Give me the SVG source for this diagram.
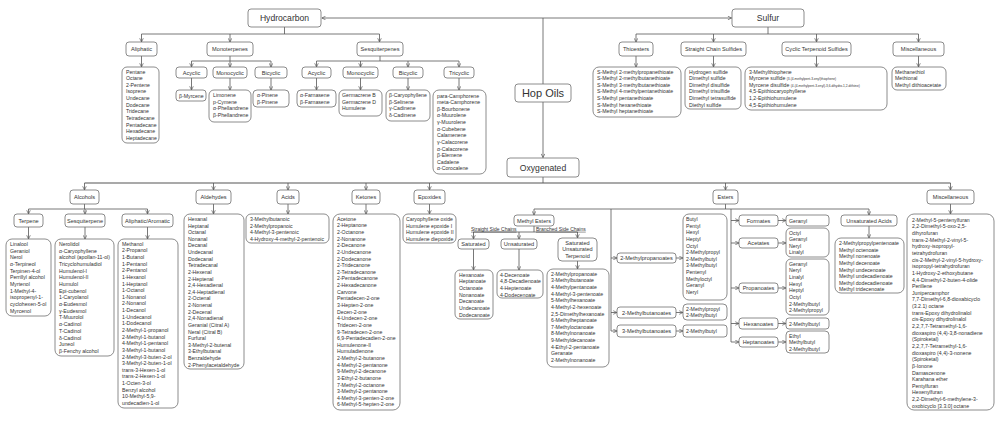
<svg xmlns="http://www.w3.org/2000/svg" width="1000" height="441" viewBox="0 0 1000 441">
<defs>
<marker id="a" viewBox="0 0 6 6" refX="5.6" refY="3" markerWidth="4.5" markerHeight="4.5" markerUnits="userSpaceOnUse" orient="auto"><path d="M0.6,0.6 L5.6,3 L0.6,5.4" fill="none" stroke="#555" stroke-width="0.9"/></marker>
<style>
rect{fill:#fff;stroke:#6e6e6e;stroke-width:0.8}
text{font-family:"Liberation Sans",Arial,sans-serif;fill:#333}
.h{font-size:5.6px;text-anchor:middle}
.l{font-size:5.2px}
.s{font-size:3.2px}
.big{font-size:8.6px;text-anchor:middle}
.c path{fill:none;stroke:#555;stroke-width:0.8}
.c .m{marker-end:url(#a)}
.u{font-size:5px;text-decoration:underline}
</style>
</defs>
<rect x="0" y="0" width="1000" height="441" style="fill:#fff;stroke:none"/>

<g class="c" id="connectors">
<path class="m" d="M543,18 H321.8"/>
<path class="m" d="M543,18 H731.6"/>
<path class="m" d="M543,18 V157.6"/>
<path d="M284.5,27 V34 M141.5,34 H379.5"/>
<path class="m" d="M141.5,34 V42"/><path class="m" d="M230,34 V42"/><path class="m" d="M379.5,34 V42"/>
<path d="M230,56 V61 M191.5,61 H271"/>
<path class="m" d="M191.5,61 V67"/><path class="m" d="M230,61 V67"/><path class="m" d="M271,61 V67"/>
<path d="M380,56 V61 M316.5,61 H459"/>
<path class="m" d="M316.5,61 V67"/><path class="m" d="M360.5,61 V67"/><path class="m" d="M408,61 V67"/><path class="m" d="M459,61 V67"/>
<path class="m" d="M141.5,56 V67"/>
<path class="m" d="M191.5,78 V90"/><path class="m" d="M230,78 V90"/><path class="m" d="M271,78 V90"/>
<path class="m" d="M316.5,78 V90"/><path class="m" d="M360.5,78 V90"/><path class="m" d="M408,78 V90"/><path class="m" d="M459,78 V90"/>
<path d="M768,27 V34 M636,34 H918.5"/>
<path class="m" d="M636,34 V42"/><path class="m" d="M713.5,34 V42"/><path class="m" d="M816.5,34 V42"/><path class="m" d="M918.5,34 V42"/>
<path class="m" d="M636,56 V67"/><path class="m" d="M713.5,56 V67"/><path class="m" d="M816.5,56 V67"/><path class="m" d="M918.5,56 V67"/>
<path d="M543,177 V183"/>
<path d="M84.5,183 H950.5" style="stroke-width:1.2"/>
<path class="m" d="M84.5,183 V190"/><path class="m" d="M213.5,183 V190"/><path class="m" d="M288,183 V190"/><path class="m" d="M366,183 V190"/><path class="m" d="M429.5,183 V190"/><path class="m" d="M725.5,183 V190"/><path class="m" d="M950.5,183 V190"/>
<path class="m" d="M213.5,204 V214"/><path class="m" d="M288,204 V214"/><path class="m" d="M366,204 V214"/><path class="m" d="M429.5,204 V214"/><path class="m" d="M950.5,204 V214"/>
<path d="M84.5,204 V209 M28.5,209 H147.5"/>
<path class="m" d="M28.5,209 V214"/><path class="m" d="M85,209 V214"/><path class="m" d="M147.5,209 V214"/>
<path class="m" d="M28.5,227 V239"/><path class="m" d="M85,227 V239"/><path class="m" d="M147.5,227 V239"/>
<path d="M725.5,204 V209 M534,209 H869 M611,209 V331 M731,209 V342"/>
<path class="m" d="M534,209 V215"/><path class="m" d="M869,209 V215"/>
<path class="m" d="M611,258 H617"/><path class="m" d="M611,312.5 H617"/><path class="m" d="M611,331 H617"/>
<path class="m" d="M676,258 H683"/><path class="m" d="M676,312.5 H683"/><path class="m" d="M676,331 H683"/>
<path class="m" d="M731,220.5 H739"/><path class="m" d="M731,243 H739"/><path class="m" d="M731,288 H739"/><path class="m" d="M731,323.5 H739"/><path class="m" d="M731,342 H739"/>
<path class="m" d="M778,220.5 H786"/><path class="m" d="M778,243 H786"/><path class="m" d="M778,288 H786"/><path class="m" d="M778,323.5 H786"/><path class="m" d="M778,342 H786"/>
<path class="m" d="M869,226 V238"/>
<path d="M534,226 V232 M473.5,232 H577.5"/>
<path class="m" d="M473.5,232 V239"/><path class="m" d="M519,232 V239"/><path class="m" d="M577.5,232 V238"/>
<path class="m" d="M473.5,249 V270"/><path class="m" d="M519,249 V270"/><path class="m" d="M577.5,261 V269"/>
</g>

<g id="hop-oils"><rect x="515" y="84" width="56" height="18" rx="3"/><text x="543" y="97" style="font-size:11px;text-anchor:middle">Hop Oils</text></g>
<g id="hydrocarbon"><rect x="248" y="9" width="73" height="18" rx="3"/><text class="big" x="284.5" y="21">Hydrocarbon</text></g>
<g id="sulfur"><rect x="732" y="9" width="72" height="18" rx="3"/><text class="big" x="768" y="21">Sulfur</text></g>
<g id="oxygenated"><rect x="507" y="158" width="72" height="19" rx="3"/><text class="big" x="543" y="170.5">Oxygenated</text></g>

<g id="aliphatic"><rect x="126" y="42" width="31" height="14" rx="3"/><text class="h" x="141.5" y="51">Aliphatic</text></g>
<g id="aliphatic-list"><rect x="122" y="67" width="37" height="76" rx="5"/><text class="l" y="73.5"><tspan x="126">Pentane</tspan><tspan x="126" dy="6.63">Octane</tspan><tspan x="126" dy="6.63">2-Pentene</tspan><tspan x="126" dy="6.63">Isoprene</tspan><tspan x="126" dy="6.63">Undecane</tspan><tspan x="126" dy="6.63">Dodecane</tspan><tspan x="126" dy="6.63">Tridecane</tspan><tspan x="126" dy="6.63">Tetradecane</tspan><tspan x="126" dy="6.63">Pentadecane</tspan><tspan x="126" dy="6.63">Hexadecane</tspan><tspan x="126" dy="6.63">Heptadecane</tspan></text></g>
<g id="monoterpenes"><rect x="207" y="42" width="46" height="14" rx="3"/><text class="h" x="230" y="51">Monoterpenes</text></g>
<g id="mono-acyclic"><rect x="176" y="67" width="31" height="11" rx="3"/><text class="h" x="191.5" y="74.5">Acyclic</text></g>
<g id="mono-monocyclic"><rect x="213" y="67" width="34" height="11" rx="3"/><text class="h" x="230" y="74.5">Monocyclic</text></g>
<g id="mono-bicyclic"><rect x="255" y="67" width="32" height="11" rx="3"/><text class="h" x="271" y="74.5">Bicyclic</text></g>
<g id="mono-acyclic-list"><rect x="176" y="90" width="30" height="11" rx="3"/><text class="l" x="179" y="97.5">β-Myrcene</text></g>
<g id="mono-monocyclic-list"><rect x="209" y="90" width="42" height="32" rx="5"/><text class="l" y="97"><tspan x="213">Limonene</tspan><tspan x="213" dy="6.63">p-Cymene</tspan><tspan x="213" dy="6.63">α-Phellandrene</tspan><tspan x="213" dy="6.63">β-Phellandrene</tspan></text></g>
<g id="mono-bicyclic-list"><rect x="253" y="90" width="36" height="17" rx="4"/><text class="l" y="97"><tspan x="257">α-Pinene</tspan><tspan x="257" dy="6.63">β-Pinene</tspan></text></g>
<g id="sesquiterpenes"><rect x="357" y="42" width="46" height="14" rx="3"/><text class="h" x="380" y="51">Sesquiterpenes</text></g>
<g id="sesq-acyclic"><rect x="302" y="67" width="29" height="11" rx="3"/><text class="h" x="316.5" y="74.5">Acyclic</text></g>
<g id="sesq-monocyclic"><rect x="343" y="67" width="35" height="11" rx="3"/><text class="h" x="360.5" y="74.5">Monocyclic</text></g>
<g id="sesq-bicyclic"><rect x="393" y="67" width="30" height="11" rx="3"/><text class="h" x="408" y="74.5">Bicyclic</text></g>
<g id="sesq-tricyclic"><rect x="444" y="67" width="30" height="11" rx="3"/><text class="h" x="459" y="74.5">Tricyclic</text></g>
<g id="sesq-acyclic-list"><rect x="297" y="90" width="39" height="17" rx="4"/><text class="l" y="97"><tspan x="300">α-Farnasene</tspan><tspan x="300" dy="6.63">β-Farnasene</tspan></text></g>
<g id="sesq-monocyclic-list"><rect x="339" y="90" width="43" height="26" rx="5"/><text class="l" y="97"><tspan x="342">Germacrene B</tspan><tspan x="342" dy="6.63">Germacrene D</tspan><tspan x="342" dy="6.63">Humulene</tspan></text></g>
<g id="sesq-bicyclic-list"><rect x="386" y="90" width="44" height="31" rx="5"/><text class="l" y="97"><tspan x="389">β-Caryophyllene</tspan><tspan x="389" dy="6.63">β-Selinene</tspan><tspan x="389" dy="6.63">γ-Cadinene</tspan><tspan x="389" dy="6.63">δ-Cadinene</tspan></text></g>
<g id="sesq-tricyclic-list"><rect x="433" y="90" width="53" height="84" rx="6"/><text class="l" y="97.5"><tspan x="437">para-Camphorene</tspan><tspan x="437" dy="6.63">meta-Camphorene</tspan><tspan x="437" dy="6.63">β-Bourbonene</tspan><tspan x="437" dy="6.63">α-Muurolene</tspan><tspan x="437" dy="6.63">γ-Muurolene</tspan><tspan x="437" dy="6.63">α-Cubebene</tspan><tspan x="437" dy="6.63">Calamenene</tspan><tspan x="437" dy="6.63">γ-Calacorene</tspan><tspan x="437" dy="6.63">α-Calacorene</tspan><tspan x="437" dy="6.63">β-Elemene</tspan><tspan x="437" dy="6.63">Cadalene</tspan><tspan x="437" dy="6.63">α-Corocalene</tspan></text></g>

<g id="thioesters"><rect x="619" y="42" width="34" height="14" rx="3"/><text class="h" x="636" y="51">Thioesters</text></g>
<g id="straight-chain-sulfides"><rect x="681" y="42" width="65" height="14" rx="3"/><text class="h" x="713.5" y="51">Straight Chain Sulfides</text></g>
<g id="cyclic-terpenoid-sulfides"><rect x="782" y="42" width="69" height="14" rx="3"/><text class="h" x="816.5" y="51">Cyclic Terpenoid Sulfides</text></g>
<g id="sulfur-misc"><rect x="893" y="42" width="51" height="14" rx="3"/><text class="h" x="918.5" y="51">Miscellaneous</text></g>
<g id="thioesters-list"><rect x="593" y="67" width="88" height="50" rx="6"/><text class="l" y="73.5"><tspan x="597">S-Methyl 2-methylpropanethioate</tspan><tspan x="597" dy="6.63">S-Methyl 2-methylbutanethioate</tspan><tspan x="597" dy="6.63">S-Methyl 3-methylbutanethioate</tspan><tspan x="597" dy="6.63">S-Methyl 4-methylpentanethioate</tspan><tspan x="597" dy="6.63">S-Methyl pentanethioate</tspan><tspan x="597" dy="6.63">S-Methyl hexanethioate</tspan><tspan x="597" dy="6.63">S-Methyl heptanethioate</tspan></text></g>
<g id="straight-chain-list"><rect x="685" y="67" width="56" height="42" rx="5"/><text class="l" y="73.5"><tspan x="689">Hydrogen sulfide</tspan><tspan x="689" dy="6.63">Dimethyl sulfide</tspan><tspan x="689" dy="6.63">Dimethyl disulfide</tspan><tspan x="689" dy="6.63">Dimethyl trisulfide</tspan><tspan x="689" dy="6.63">Dimethyl tetrasulfide</tspan><tspan x="689" dy="6.63">Diethyl sulfide</tspan></text></g>
<g id="cyclic-terpenoid-list"><rect x="745" y="67" width="142" height="43" rx="6"/><text class="l" y="73.5"><tspan x="749">3-Methylthiophene</tspan><tspan x="749" dy="6.63">Myrcene sulfide </tspan><tspan class="s">(3-(4-methylpent-3-enyl)thiophene)</tspan><tspan x="749" dy="6.63">Myrcene disulfide </tspan><tspan class="s">(4-(4-methylpent-3-enyl)-3,6-dihydro-1,2-dithiine)</tspan><tspan x="749" dy="6.63">4,5-Epithiocaryophyllene</tspan><tspan x="749" dy="6.63">1,2-Epithiohumulene</tspan><tspan x="749" dy="6.63">4,5-Epithiohumulene</tspan></text></g>
<g id="sulfur-misc-list"><rect x="892" y="67" width="54" height="23" rx="5"/><text class="l" y="73.5"><tspan x="895">Methanethiol</tspan><tspan x="895" dy="6.63">Methional</tspan><tspan x="895" dy="6.63">Methyl dithioacetate</tspan></text></g>

<g id="alcohols"><rect x="70" y="190" width="29" height="14" rx="3"/><text class="h" x="84.5" y="199">Alcohols</text></g>
<g id="terpene"><rect x="14" y="214" width="29" height="13" rx="3"/><text class="h" x="28.5" y="222.5">Terpene</text></g>
<g id="sesquiterpene"><rect x="65" y="214" width="40" height="13" rx="3"/><text class="h" x="85" y="222.5">Sesquiterpene</text></g>
<g id="aliphatic-aromatic"><rect x="122" y="214" width="51" height="13" rx="3"/><text class="h" x="147.5" y="222.5">Aliphatic/Aromatic</text></g>
<g id="terpene-list"><rect x="6" y="239" width="45" height="77" rx="6"/><text class="l" y="246"><tspan x="10">Linalool</tspan><tspan x="10" dy="6.67">Geraniol</tspan><tspan x="10" dy="6.67">Nerol</tspan><tspan x="10" dy="6.67">α-Terpineol</tspan><tspan x="10" dy="6.67">Terpinen-4-ol</tspan><tspan x="10" dy="6.67">Perrillyl alcohol</tspan><tspan x="10" dy="6.67">Myrtenol</tspan><tspan x="10" dy="6.67">1-Methyl-4-</tspan><tspan x="10" dy="6.67">isopropenyl-1-</tspan><tspan x="10" dy="6.67">cyclohexen-5-ol</tspan><tspan x="10" dy="6.67">Myrcenol</tspan></text></g>
<g id="sesquiterpene-list"><rect x="55" y="239" width="59" height="117" rx="6"/><text class="l" y="246"><tspan x="59">Nerolidol</tspan><tspan x="59" dy="6.68">α-Caryophyllene</tspan><tspan x="59" dy="6.68">alcohol (apollan-11-ol)</tspan><tspan x="59" dy="6.68">Tricyclohumuladiol</tspan><tspan x="59" dy="6.68">Humulenol-I</tspan><tspan x="59" dy="6.68">Humulenol-II</tspan><tspan x="59" dy="6.68">Humulol</tspan><tspan x="59" dy="6.68">Epi-cubenol</tspan><tspan x="59" dy="6.68">1-Caryolanol</tspan><tspan x="59" dy="6.68">α-Eudesmol</tspan><tspan x="59" dy="6.68">γ-Eudesmol</tspan><tspan x="59" dy="6.68">T-Muurolol</tspan><tspan x="59" dy="6.68">α-Cadinol</tspan><tspan x="59" dy="6.68">T-Cadinol</tspan><tspan x="59" dy="6.68">δ-Cadinol</tspan><tspan x="59" dy="6.68">Juneol</tspan><tspan x="59" dy="6.68">β-Fenchy alcohol</tspan></text></g>
<g id="aliphatic-aromatic-list"><rect x="118" y="239" width="60" height="169" rx="6"/><text class="l" y="245.8"><tspan x="122">Methanol</tspan><tspan x="122" dy="6.63">2-Propanol</tspan><tspan x="122" dy="6.63">1-Butanol</tspan><tspan x="122" dy="6.63">1-Pentanol</tspan><tspan x="122" dy="6.63">2-Pentanol</tspan><tspan x="122" dy="6.63">1-Hexanol</tspan><tspan x="122" dy="6.63">1-Heptanol</tspan><tspan x="122" dy="6.63">1-Octanol</tspan><tspan x="122" dy="6.63">1-Nonanol</tspan><tspan x="122" dy="6.63">2-Nonanol</tspan><tspan x="122" dy="6.63">1-Decanol</tspan><tspan x="122" dy="6.63">1-Undecanol</tspan><tspan x="122" dy="6.63">1-Dodecanol</tspan><tspan x="122" dy="6.63">2-Methyl-1-propanol</tspan><tspan x="122" dy="6.63">2-Methyl-1-butanol</tspan><tspan x="122" dy="6.63">4-Methyl-1-pentanol</tspan><tspan x="122" dy="6.63">3-Methyl-1-butanol</tspan><tspan x="122" dy="6.63">2-Methyl-3-buten-2-ol</tspan><tspan x="122" dy="6.63">3-Methyl-2-buten-1-ol</tspan><tspan x="122" dy="6.63">trans-3-Hexen-1-ol</tspan><tspan x="122" dy="6.63">trans-2-Hexen-1-ol</tspan><tspan x="122" dy="6.63">1-Octen-3-ol</tspan><tspan x="122" dy="6.63">Benzyl alcohol</tspan><tspan x="122" dy="6.63">10-Methyl-5,9-</tspan><tspan x="122" dy="6.63">undecadien-1-ol</tspan></text></g>

<g id="aldehydes"><rect x="196" y="190" width="35" height="14" rx="3"/><text class="h" x="213.5" y="199">Aldehydes</text></g>
<g id="aldehydes-list"><rect x="184" y="214" width="60" height="155" rx="6"/><text class="l" y="221"><tspan x="188">Hexanal</tspan><tspan x="188" dy="6.62">Heptanal</tspan><tspan x="188" dy="6.62">Octanal</tspan><tspan x="188" dy="6.62">Nonanal</tspan><tspan x="188" dy="6.62">Decanal</tspan><tspan x="188" dy="6.62">Undecanal</tspan><tspan x="188" dy="6.62">Dodecanal</tspan><tspan x="188" dy="6.62">Tetradecanal</tspan><tspan x="188" dy="6.62">2-Hexenal</tspan><tspan x="188" dy="6.62">2-Heptenal</tspan><tspan x="188" dy="6.62">2,4-Hexadienal</tspan><tspan x="188" dy="6.62">2,4-Heptadienal</tspan><tspan x="188" dy="6.62">2-Octenal</tspan><tspan x="188" dy="6.62">2-Nonenal</tspan><tspan x="188" dy="6.62">2-Decenal</tspan><tspan x="188" dy="6.62">2,4-Nonadienal</tspan><tspan x="188" dy="6.62">Geranial (Citral A)</tspan><tspan x="188" dy="6.62">Neral (Citral B)</tspan><tspan x="188" dy="6.62">Furfural</tspan><tspan x="188" dy="6.62">3-Methyl-2-butenal</tspan><tspan x="188" dy="6.62">3-Ethylbutanal</tspan><tspan x="188" dy="6.62">Benzaldehyde</tspan><tspan x="188" dy="6.62">2-Phenylacetaldehyde</tspan></text></g>

<g id="acids"><rect x="277" y="190" width="22" height="14" rx="3"/><text class="h" x="288" y="199">Acids</text></g>
<g id="acids-list"><rect x="246" y="214" width="83" height="29" rx="5"/><text class="l" y="221"><tspan x="250">3-Methylbutanoic</tspan><tspan x="250" dy="6.63">2-Methylpropanoic</tspan><tspan x="250" dy="6.63">4-Methyl-3-pentenoic</tspan><tspan x="250" dy="6.63">4-Hydroxy-4-methyl-2-pentenoic</tspan></text></g>

<g id="ketones"><rect x="352" y="190" width="28" height="14" rx="3"/><text class="h" x="366" y="199">Ketones</text></g>
<g id="ketones-list"><rect x="333" y="214" width="67" height="196" rx="7"/><text class="l" y="220.8"><tspan x="337">Acetone</tspan><tspan x="337" dy="6.63">2-Heptanone</tspan><tspan x="337" dy="6.63">2-Octanone</tspan><tspan x="337" dy="6.63">2-Nonanone</tspan><tspan x="337" dy="6.63">2-Decanone</tspan><tspan x="337" dy="6.63">2-Undecanone</tspan><tspan x="337" dy="6.63">2-Dodecanone</tspan><tspan x="337" dy="6.63">2-Tridecanone</tspan><tspan x="337" dy="6.63">2-Tetradecanone</tspan><tspan x="337" dy="6.63">2-Pentadecanone</tspan><tspan x="337" dy="6.63">2-Hexadecanone</tspan><tspan x="337" dy="6.63">Carvone</tspan><tspan x="337" dy="6.63">Pentadecen-2-one</tspan><tspan x="337" dy="6.63">3-Hepten-2-one</tspan><tspan x="337" dy="6.63">Decen-2-one</tspan><tspan x="337" dy="6.63">4-Undecen-2-one</tspan><tspan x="337" dy="6.63">Tridecen-2-one</tspan><tspan x="337" dy="6.63">9-Tetradecen-2-one</tspan><tspan x="337" dy="6.63">6,9-Pentadecadien-2-one</tspan><tspan x="337" dy="6.63">Humulenone-II</tspan><tspan x="337" dy="6.63">Humuladienone</tspan><tspan x="337" dy="6.63">2-Methyl-2-butanone</tspan><tspan x="337" dy="6.63">4-Methyl-2-pentanone</tspan><tspan x="337" dy="6.63">9-Methyl-2-decanone</tspan><tspan x="337" dy="6.63">3-Ethyl-2-butanone</tspan><tspan x="337" dy="6.63">7-Methyl-2-octanone</tspan><tspan x="337" dy="6.63">3-Methyl-2-pentanone</tspan><tspan x="337" dy="6.63">4-Methyl-3-penten-2-one</tspan><tspan x="337" dy="6.63">6-Methyl-5-hepten-2-one</tspan></text></g>

<g id="epoxides"><rect x="414" y="190" width="31" height="14" rx="3"/><text class="h" x="429.5" y="199">Epoxides</text></g>
<g id="epoxides-list"><rect x="403" y="214" width="53" height="29" rx="5"/><text class="l" y="221"><tspan x="406">Caryophyllene oxide</tspan><tspan x="406" dy="6.63">Humulene epoxide I</tspan><tspan x="406" dy="6.63">Humulene epoxide II</tspan><tspan x="406" dy="6.63">Humulene diepoxide</tspan></text></g>

<g id="esters"><rect x="713" y="190" width="25" height="14" rx="3"/><text class="h" x="725.5" y="199">Esters</text></g>
<g id="methyl-esters"><rect x="514" y="215" width="40" height="11" rx="3"/><text class="h" x="534" y="222.5">Methyl Esters</text></g>
<g id="side-chain-labels"><text class="u" x="471" y="230.8">Straight Side Chains</text><text class="u" x="536" y="230.8">Branched Side Chains</text></g>
<g id="saturated"><rect x="458" y="239" width="31" height="10" rx="3"/><text class="h" x="473.5" y="246">Saturated</text></g>
<g id="unsaturated"><rect x="501" y="239" width="36" height="10" rx="3"/><text class="h" x="519" y="246">Unsaturated</text></g>
<g id="sat-unsat-terpenoid"><rect x="558" y="238" width="39" height="23" rx="4"/><text class="h" y="244.5"><tspan x="577.5">Saturated</tspan><tspan x="577.5" dy="6.65">Unsaturated</tspan><tspan x="577.5" dy="6.65">Terpenoid</tspan></text></g>
<g id="saturated-list"><rect x="455" y="270" width="38" height="49" rx="5"/><text class="l" y="276.8"><tspan x="459">Hexanoate</tspan><tspan x="459" dy="6.63">Heptanoate</tspan><tspan x="459" dy="6.63">Octanoate</tspan><tspan x="459" dy="6.63">Nonanoate</tspan><tspan x="459" dy="6.63">Decanoate</tspan><tspan x="459" dy="6.63">Undecanoate</tspan><tspan x="459" dy="6.63">Dodecanoate</tspan></text></g>
<g id="unsaturated-list"><rect x="497" y="270" width="46" height="28" rx="5"/><text class="l" y="276.8"><tspan x="500">4-Decenoate</tspan><tspan x="500" dy="6.63">4,8-Decadienoate</tspan><tspan x="500" dy="6.63">4-Heptenoate</tspan><tspan x="500" dy="6.63">4-Dodecenoate</tspan></text></g>
<g id="branched-list"><rect x="547" y="269" width="62" height="98" rx="6"/><text class="l" y="275.8"><tspan x="551">2-Methylpropanoate</tspan><tspan x="551" dy="6.63">3-Methylbutanoate</tspan><tspan x="551" dy="6.63">4-Methylpentanoate</tspan><tspan x="551" dy="6.63">4-Methyl-3-pentenoate</tspan><tspan x="551" dy="6.63">5-Methylhexanoate</tspan><tspan x="551" dy="6.63">4-Methyl-2-hexenoate</tspan><tspan x="551" dy="6.63">2,5-Dimethylhexanoate</tspan><tspan x="551" dy="6.63">6-Methylheptanoate</tspan><tspan x="551" dy="6.63">7-Methyloctanoate</tspan><tspan x="551" dy="6.63">8-Methylnonanoate</tspan><tspan x="551" dy="6.63">9-Methyldecanoate</tspan><tspan x="551" dy="6.63">4-Ethyl-2-pentanoate</tspan><tspan x="551" dy="6.63">Geranate</tspan><tspan x="551" dy="6.63">2-Methylnonanoate</tspan></text></g>

<g id="methylpropanoates"><rect x="617" y="253" width="59" height="10" rx="3"/><text class="h" x="646.5" y="260">2-Methylpropanoates</text></g>
<g id="methylpropanoates-list"><rect x="683" y="214" width="44" height="86" rx="6"/><text class="l" y="221"><tspan x="686">Butyl</tspan><tspan x="686" dy="6.63">Pentyl</tspan><tspan x="686" dy="6.63">Hexyl</tspan><tspan x="686" dy="6.63">Heptyl</tspan><tspan x="686" dy="6.63">Octyl</tspan><tspan x="686" dy="6.63">2-Methylpropyl</tspan><tspan x="686" dy="6.63">2-Methylbutyl</tspan><tspan x="686" dy="6.63">3-Methylbutyl</tspan><tspan x="686" dy="6.63">Pentenyl</tspan><tspan x="686" dy="6.63">Methyloctyl</tspan><tspan x="686" dy="6.63">Geranyl</tspan><tspan x="686" dy="6.63">Neryl</tspan></text></g>
<g id="methylbutanoates-2"><rect x="617" y="307" width="59" height="11" rx="3"/><text class="h" x="646.5" y="314.5">2-Methylbutanoates</text></g>
<g id="methylbutanoates-2-list"><rect x="683" y="304" width="44" height="16" rx="4"/><text class="l" y="310.5"><tspan x="686">2-Methylpropyl</tspan><tspan x="686" dy="6.63">2-Methylbutyl</tspan></text></g>
<g id="methylbutanoates-3"><rect x="617" y="325" width="59" height="12" rx="3"/><text class="h" x="646.5" y="333">3-Methylbutanoates</text></g>
<g id="methylbutanoates-3-list"><rect x="683" y="325" width="44" height="12" rx="3"/><text class="l" x="686" y="332.8">2-Methylbutyl</text></g>

<g id="formates"><rect x="739" y="215" width="39" height="11" rx="3"/><text class="h" x="758.5" y="222.5">Formates</text></g>
<g id="formates-list"><rect x="786" y="215" width="43" height="11" rx="3"/><text class="l" x="789" y="222.5">Geranyl</text></g>
<g id="acetates"><rect x="739" y="238" width="39" height="10" rx="3"/><text class="h" x="758.5" y="245">Acetates</text></g>
<g id="acetates-list"><rect x="786" y="228" width="43" height="29" rx="5"/><text class="l" y="234.5"><tspan x="789">Octyl</tspan><tspan x="789" dy="6.63">Geranyl</tspan><tspan x="789" dy="6.63">Neryl</tspan><tspan x="789" dy="6.63">Linalyl</tspan></text></g>
<g id="propanoates"><rect x="739" y="283" width="39" height="10" rx="3"/><text class="h" x="758.5" y="290">Propanoates</text></g>
<g id="propanoates-list"><rect x="786" y="259" width="43" height="56" rx="5"/><text class="l" y="265.8"><tspan x="789">Geranyl</tspan><tspan x="789" dy="6.63">Neryl</tspan><tspan x="789" dy="6.63">Linalyl</tspan><tspan x="789" dy="6.63">Hexyl</tspan><tspan x="789" dy="6.63">Heptyl</tspan><tspan x="789" dy="6.63">Octyl</tspan><tspan x="789" dy="6.63">2-Methylbutyl</tspan><tspan x="789" dy="6.63">2-Methylpropyl</tspan></text></g>
<g id="hexanoates"><rect x="739" y="318" width="39" height="11" rx="3"/><text class="h" x="758.5" y="325.5">Hexanoates</text></g>
<g id="hexanoates-list"><rect x="786" y="318" width="43" height="11" rx="3"/><text class="l" x="789" y="325.5">2-Methylbutyl</text></g>
<g id="heptanoates"><rect x="739" y="337" width="39" height="10" rx="3"/><text class="h" x="758.5" y="344">Heptanoates</text></g>
<g id="heptanoates-list"><rect x="786" y="331" width="43" height="22" rx="4"/><text class="l" y="337.5"><tspan x="789">Ethyl</tspan><tspan x="789" dy="6.63">Methylbutyl</tspan><tspan x="789" dy="6.63">2-Methylbutyl</tspan></text></g>

<g id="unsaturated-acids"><rect x="841" y="215" width="56" height="11" rx="3"/><text class="h" x="869" y="222.5">Unsaturated Acids</text></g>
<g id="unsaturated-acids-list"><rect x="835" y="238" width="69" height="55" rx="6"/><text class="l" y="245"><tspan x="839">2-Methylpropylpentenoate</tspan><tspan x="839" dy="6.63">Methyl octenoate</tspan><tspan x="839" dy="6.63">Methyl nonenoate</tspan><tspan x="839" dy="6.63">Methyl decenoate</tspan><tspan x="839" dy="6.63">Methyl undecenoate</tspan><tspan x="839" dy="6.63">Methyl undecadienoate</tspan><tspan x="839" dy="6.63">Methyl dodecadienoate</tspan><tspan x="839" dy="6.63">Methyl tridecenoate</tspan></text></g>

<g id="oxy-misc"><rect x="927" y="190" width="47" height="14" rx="3"/><text class="h" x="950.5" y="199">Miscellaneous</text></g>
<g id="oxy-misc-list"><rect x="907" y="214" width="87" height="196" rx="7"/><text class="l" y="221.8"><tspan x="912">2-Methyl-5-pentenylfuran</tspan><tspan x="912" dy="6.64">2,2-Dimethyl-5-oxo-2,5-</tspan><tspan x="912" dy="6.64">dihyrofuran</tspan><tspan x="912" dy="6.64">trans-2-Methyl-2-vinyl-5-</tspan><tspan x="912" dy="6.64">hydroxy-isopropyl-</tspan><tspan x="912" dy="6.64">tetrahydrofuran</tspan><tspan x="912" dy="6.64">cis-2-Methyl-2-vinyl-5-hydroxy-</tspan><tspan x="912" dy="6.64">isopropyl-tetrahydrofuran</tspan><tspan x="912" dy="6.64">1-Hydroxy-2-ethoxybutane</tspan><tspan x="912" dy="6.64">4,4-Dimethyl-2-buten-4-olide</tspan><tspan x="912" dy="6.64">Perillene</tspan><tspan x="912" dy="6.64">Junipercamphor</tspan><tspan x="912" dy="6.64">7,7-Dimethyl-6,8-dioxabicyclo</tspan><tspan x="912" dy="6.64">(3.2.1) octane</tspan><tspan x="912" dy="6.64">trans-Epoxy dihydrolinalol</tspan><tspan x="912" dy="6.64">cis-Epoxy dihydrolinalol</tspan><tspan x="912" dy="6.64">2,2,7,7-Tetramethyl-1,6-</tspan><tspan x="912" dy="6.64">dioxaspiro (4,4)-3,8-nonadiene</tspan><tspan x="912" dy="6.64">(Spiroketal)</tspan><tspan x="912" dy="6.64">2,2,7,7-Tetramethyl-1,6-</tspan><tspan x="912" dy="6.64">dioxaspiro (4,4)-3-nonene</tspan><tspan x="912" dy="6.64">(Spiroketal)</tspan><tspan x="912" dy="6.64">β-Ionone</tspan><tspan x="912" dy="6.64">Damascenone</tspan><tspan x="912" dy="6.64">Karahana ether</tspan><tspan x="912" dy="6.64">Pentylfuran</tspan><tspan x="912" dy="6.64">Hexenylfuran</tspan><tspan x="912" dy="6.64">2,2-Dimethyl-6-methylene-3-</tspan><tspan x="912" dy="6.64">oxobicyclo [3.3.0] octane</tspan></text></g>
</svg>
